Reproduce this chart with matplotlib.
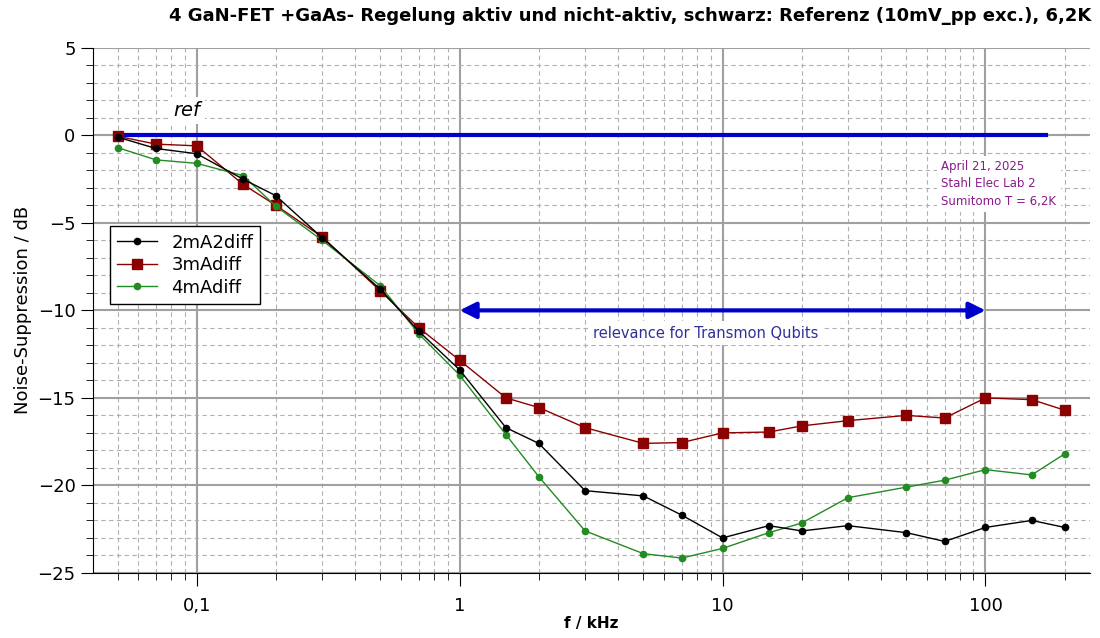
import matplotlib
matplotlib.use("Agg")
import matplotlib.pyplot as plt
from matplotlib.ticker import FixedLocator, FuncFormatter, LogLocator, NullFormatter, MultipleLocator

# Frequenzen (kHz)
freq = [0.05, 0.07, 0.1, 0.15, 0.2, 0.3, 0.5, 0.7, 1, 1.5, 2, 3, 5, 7,
        10, 15, 20, 30, 50, 70, 100, 150, 200]

# Unterdrueckung in dB
sup_2mA2diff = [-0.1, -0.75, -1.05, -2.5, -3.45, -5.85, -8.8, -11.2, -13.4,
                -16.7, -17.6, -20.3, -20.6, -21.7, -23.0, -22.3, -22.6,
                -22.3, -22.7, -23.2, -22.4, -22.0, -22.4]
sup_3mAdiff = [-0.05, -0.5, -0.6, -2.8, -4.0, -5.8, -8.9, -11.0, -12.85,
               -15.0, -15.55, -16.7, -17.6, -17.55, -17.0, -16.95, -16.6,
               -16.3, -16.0, -16.15, -15.0, -15.1, -15.7]
sup_4mAdiff = [-0.7, -1.4, -1.6, -2.3, -4.05, -6.0, -8.6, -11.35, -13.7,
               -17.1, -19.5, -22.6, -23.9, -24.15, -23.6, -22.7, -22.15,
               -20.7, -20.1, -19.7, -19.1, -19.4, -18.2]

ref_f = [0.05, 170]
ref_db = [0, 0]

plt.rcParams["font.family"] = "DejaVu Sans"
fig = plt.figure(figsize=(11, 6.38), dpi=100)
ax = fig.add_axes([0.0845, 0.102, 0.9065, 0.823])

ax.set_xscale("log")
ax.set_xlim(0.0403, 250)
ax.set_ylim(-25, 5)

# Gitter
ax.xaxis.set_major_locator(FixedLocator([0.1, 1, 10, 100]))
ax.xaxis.set_minor_locator(LogLocator(base=10, subs=range(2, 10)))
ax.xaxis.set_minor_formatter(NullFormatter())
ax.xaxis.set_major_formatter(FuncFormatter(lambda v, p: ("%g" % v).replace(".", ",")))
ax.yaxis.set_major_locator(MultipleLocator(5))
ax.yaxis.set_minor_locator(MultipleLocator(1))
ax.yaxis.set_major_formatter(FuncFormatter(lambda v, p: ("%d" % v).replace("-", "\u2212")))
ax.grid(True, which="major", color="#a0a0a0", linestyle="-", linewidth=1.5)
ax.grid(True, which="minor", color="#b0b0b0", linestyle=(0, (4, 3)), linewidth=0.8)
ax.set_axisbelow(True)

for s in ["top", "right"]:
    ax.spines[s].set_visible(False)
ax.tick_params(which="major", length=9, labelsize=13, direction="out")
ax.tick_params(axis="x", which="major", pad=8)
ax.tick_params(which="minor", length=5, direction="out")

# Referenz
ax.plot(ref_f, ref_db, color="#0000cc", linewidth=3, zorder=3)

ax.plot(freq, sup_2mA2diff, color="black", marker="o", markersize=4.5,
        linewidth=1, label="2mA2diff", zorder=5)
ax.plot(freq, sup_3mAdiff, color="#8b0000", marker="s", markersize=6.5,
        linewidth=1, label="3mAdiff", zorder=4)
ax.plot(freq, sup_4mAdiff, color="#228b22", marker="o", markersize=4.5,
        linewidth=1, label="4mAdiff", zorder=4)

ax.text(0.092, 1.4, "ref", fontsize=14, style="italic", ha="center", va="center",
        bbox=dict(facecolor="white", edgecolor="none", pad=3))

ax.annotate("", xy=(1, -10), xytext=(100, -10),
            arrowprops=dict(arrowstyle="<|-|>", color="#0000cc", lw=3,
                            mutation_scale=24, shrinkA=0, shrinkB=0))
ax.text(8.6, -11.3, "relevance for Transmon Qubits", fontsize=10.5, color="#303099",
        ha="center", va="center", bbox=dict(facecolor="white", edgecolor="none", pad=3))

ax.text(68, -1.4, "April 21, 2025\nStahl Elec Lab 2\nSumitomo T = 6,2K",
        fontsize=8.5, color="#8b1a8b", ha="left", va="top", linespacing=1.45,
        bbox=dict(facecolor="white", edgecolor="none", pad=3))

leg = ax.legend(loc="upper left", bbox_to_anchor=(0.017, 0.66), fontsize=13,
                fancybox=False, framealpha=1, edgecolor="black", borderaxespad=0,
                handlelength=2.2, borderpad=0.4, labelspacing=0.25)
leg.get_frame().set_linewidth(1)

ax.set_ylabel("Noise-Suppression / dB", fontsize=13)
ax.set_xlabel("f / kHz", fontsize=11, fontweight="bold", labelpad=1)
fig.text(0.573, 0.975, "4 GaN-FET +GaAs- Regelung aktiv und nicht-aktiv, schwarz: Referenz (10mV_pp exc.), 6,2K",
         fontsize=13, fontweight="bold", ha="center", va="center")

fig.savefig("out.png", dpi=100)
